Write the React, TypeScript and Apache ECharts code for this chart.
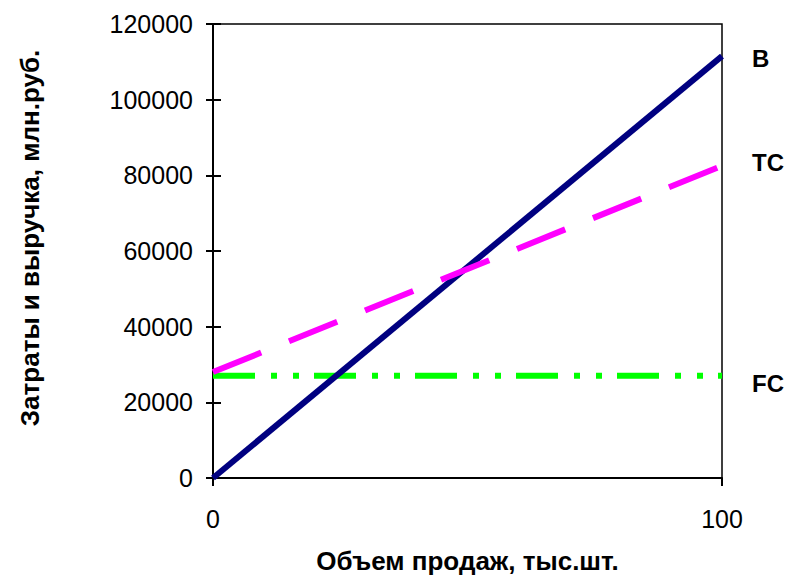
import React, { useEffect, useRef } from "react";
import * as echarts from "echarts";

const xValues = [0, 100];
const revenueB = [0, 111500];
const totalCostTC = [28000, 82500];
const fixedCostFC = [27000, 27000];
const seriesNames = ["B", "TC", "FC"];
const yTitle = "Затраты и выручка, млн.руб.";
const xTitle = "Объем продаж, тыс.шт.";

const FONT = '"Liberation Sans", Arial, sans-serif';

export default function App() {
  const ref = useRef<HTMLDivElement>(null);
  useEffect(() => {
    if (!ref.current) return;
    const chart = echarts.init(ref.current, null, { renderer: "svg" });
    const pts = (ys: number[]) => xValues.map((x, i) => [x, ys[i]]);
    const endLabel = (dy: number) => ({
      show: true,
      formatter: "{a}",
      distance: 30,
      offset: [0, dy],
      color: "#000",
      fontWeight: "bold",
      fontSize: 24,
      fontFamily: FONT,
    });
    chart.setOption({
      animation: false,
      backgroundColor: "#fff",
      textStyle: { fontFamily: FONT },
      grid: {
        left: 213,
        right: 67,
        top: 24,
        bottom: 102,
        containLabel: false,
        outerBoundsMode: "none",
        show: true,
        borderColor: "#000",
        borderWidth: 1.5,
        backgroundColor: "transparent",
      },
      xAxis: {
        type: "value",
        min: 0,
        max: 100,
        interval: 100,
        name: xTitle,
        nameLocation: "middle",
        nameGap: 70,
        nameTextStyle: { fontSize: 26, fontWeight: "bold", color: "#000", fontFamily: FONT },
        axisLine: { lineStyle: { color: "#000", width: 2 } },
        axisTick: { show: true, length: 8, lineStyle: { color: "#000", width: 2 } },
        axisLabel: { fontSize: 25, color: "#000", margin: 28, fontFamily: FONT },
        splitLine: { show: false },
      },
      yAxis: [
        {
          type: "value",
          min: 0,
          max: 120000,
          interval: 20000,
          axisLine: { show: true, lineStyle: { color: "#000", width: 2 } },
          axisTick: { show: true, length: 7, lineStyle: { color: "#000", width: 2 } },
          axisLabel: {
            fontSize: 25,
            color: "#000",
            margin: 20,
            fontFamily: FONT,
            formatter: (v: number) => String(v),
          },
          splitLine: { show: false },
        },
        {
          type: "value",
          position: "left",
          min: 0,
          max: 120000,
          interval: 20000,
          axisLine: { show: false },
          axisTick: { show: true, inside: true, length: 8, lineStyle: { color: "#000", width: 2 } },
          axisLabel: { show: false },
          splitLine: { show: false },
        },
      ],
      graphic: [
        {
          type: "text",
          x: 30,
          y: 238,
          rotation: Math.PI / 2,
          style: {
            text: yTitle,
            fontSize: 26,
            fontWeight: "bold",
            fontFamily: FONT,
            fill: "#000",
            align: "center",
            verticalAlign: "middle",
          },
        },
      ],
      series: [
        {
          name: seriesNames[0],
          type: "line",
          data: pts(revenueB),
          symbol: "none",
          lineStyle: { color: "#000080", width: 6, cap: "butt" },
          endLabel: endLabel(2),
          z: 3,
        },
        {
          name: seriesNames[1],
          type: "line",
          data: pts(totalCostTC),
          symbol: "none",
          lineStyle: { color: "#FF00FF", width: 6, type: [52, 30], cap: "butt" },
          endLabel: endLabel(-3),
          z: 4,
        },
        {
          name: seriesNames[2],
          type: "line",
          data: pts(fixedCostFC),
          symbol: "none",
          lineStyle: { color: "#00FF00", width: 6, type: [42, 16, 6, 16, 6, 15], cap: "butt" },
          endLabel: endLabel(8),
          z: 2,
        },
      ],
    });
    return () => chart.dispose();
  }, []);
  return (
    <div
      ref={ref}
      style={{ position: "fixed", left: 0, top: 0, width: 789, height: 580 }}
    />
  );
}
